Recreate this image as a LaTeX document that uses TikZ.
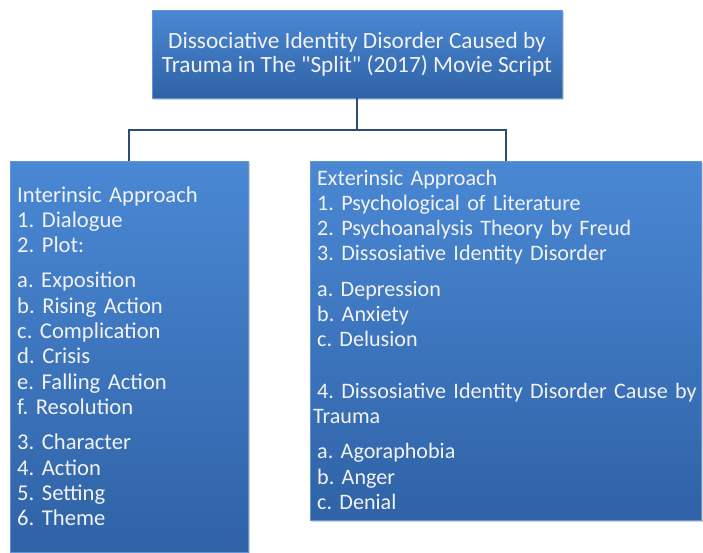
\documentclass[tikz,border=0pt]{standalone}
\usepackage{fontspec}
\setmainfont{Carlito}[Ligatures=TeXOff]
\usepackage{tikz}
\usetikzlibrary{shadows}

\definecolor{boxtop}{RGB}{74,136,212}
\definecolor{boxbottom}{RGB}{47,98,166}
\definecolor{boxedge}{RGB}{96,150,214}
\definecolor{boxtext}{RGB}{242,242,242}
\definecolor{linkcol}{RGB}{44,77,117}

\begin{document}
\frenchspacing
\begin{tikzpicture}[x=1pt,y=-1pt,
	panel/.style={rectangle, draw=boxedge, line width=0.6pt, top color=boxtop, bottom color=boxbottom,
		drop shadow={shadow xshift=2pt, shadow yshift=-2pt, opacity=0.35}},
	paneltext/.style={text=boxtext, inner sep=0pt, align=left, anchor=base west,
		font=\fontsize{22.6}{25.3}\selectfont},
	link/.style={draw=linkcol, line width=2pt}]
	\useasboundingbox (0,0) rectangle (703,552);

	\node[panel, minimum width=410, minimum height=88, text=boxtext, align=center,
		font=\fontsize{23.3}{24}\selectfont] (title) at (357,54)
		{Dissociative Identity Disorder Caused by\\Trauma in The "Split" (2017) Movie Script};

	\node[panel, minimum width=238, minimum height=391, anchor=north west] (intr) at (10,161) {};
	\node[panel, minimum width=391, minimum height=359, anchor=north west] (extr) at (310,161) {};

	\node[paneltext, text width=230] (intrtext) at (17,202)
		{Interinsic Approach\\
		1. Dialogue\\
		2. Plot:\\[10pt]
		a. Exposition\\
		b. Rising Action\\
		c. Complication\\
		d. Crisis\\
		e. Falling Action\\
		f. Resolution\\[10pt]
		3. Character\\
		4. Action\\
		5. Setting\\
		6. Theme};
	\node[paneltext, text width=400, font=\fontsize{22.1}{25.3}\selectfont] (extrtext) at (317,185)
		{Exterinsic Approach\\
		1. Psychological of Literature\\
		2. Psychoanalysis Theory by Freud\\
		3. Dissosiative Identity Disorder\\[10pt]
		a. Depression\\
		b. Anxiety\\
		c. Delusion\\[26pt]
		4. Dissosiative Identity Disorder Cause by\\
		\hspace*{-4pt}Trauma\\[10pt]
		a. Agoraphobia\\
		b. Anger\\
		c. Denial};

	\draw[link] (title.south) -- ++(0,32) -| (intr.north);
	\draw[link] (title.south) -- ++(0,32) -| (extr.north);
\end{tikzpicture}
\end{document}
